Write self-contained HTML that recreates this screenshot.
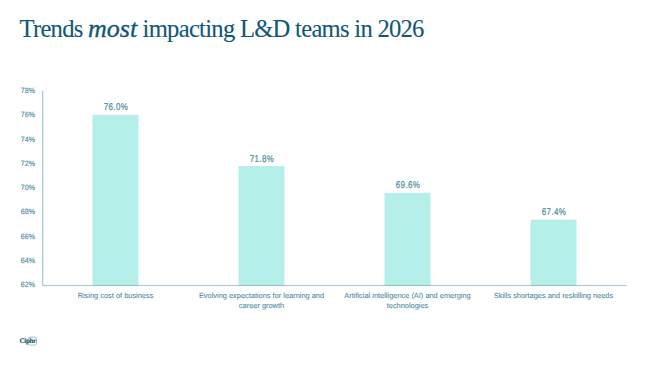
<!DOCTYPE html>
<html><head><meta charset="utf-8">
<style>
html,body{margin:0;padding:0;background:#fff;}
body{width:650px;height:365px;position:relative;overflow:hidden;font-family:"Liberation Sans",sans-serif;}
.title{position:absolute;left:19.5px;top:13.6px;font-family:"Liberation Serif",serif;font-size:24.6px;letter-spacing:-0.72px;-webkit-text-stroke:0.12px #115877;color:#115877;white-space:nowrap;line-height:30px;}
.title i{font-style:italic;font-size:26px;letter-spacing:0px;-webkit-text-stroke:0.35px #115877;}
svg.chart{position:absolute;left:0;top:0;text-rendering:geometricPrecision;}
.tk{font-family:"Liberation Sans",sans-serif;font-size:7.6px;fill:#5a96a9;stroke:#5a96a9;stroke-width:0.2px;text-anchor:end;}
.dl{font-family:"Liberation Sans",sans-serif;font-size:9.9px;letter-spacing:0.4px;fill:#508ca0;stroke:#508ca0;stroke-width:0.2px;text-anchor:middle;}
.ct{font-family:"Liberation Sans",sans-serif;font-size:7.42px;fill:#5290a4;stroke:#5290a4;stroke-width:0.1px;text-anchor:middle;}
</style></head><body>
<div class="title">Trends <i>most</i> impacting L&amp;D teams in 2026</div>
<svg class="chart" width="650" height="365" viewBox="0 0 650 365">
<text transform="translate(35,287.23) scale(0.93,1)" class="tk">62%</text>
<text transform="translate(35,262.97) scale(0.93,1)" class="tk">64%</text>
<text transform="translate(35,238.71) scale(0.93,1)" class="tk">66%</text>
<text transform="translate(35,214.45) scale(0.93,1)" class="tk">68%</text>
<text transform="translate(35,190.19) scale(0.93,1)" class="tk">70%</text>
<text transform="translate(35,165.93) scale(0.93,1)" class="tk">72%</text>
<text transform="translate(35,141.67) scale(0.93,1)" class="tk">74%</text>
<text transform="translate(35,117.41) scale(0.93,1)" class="tk">76%</text>
<text transform="translate(35,93.15) scale(0.93,1)" class="tk">78%</text>

<rect x="92.50" y="114.84" width="46" height="171.16" fill="#b5efea"/>
<rect x="238.50" y="166.04" width="46" height="119.96" fill="#b5efea"/>
<rect x="384.50" y="192.86" width="46" height="93.14" fill="#b5efea"/>
<rect x="530.50" y="219.67" width="46" height="66.33" fill="#b5efea"/>

<rect x="42" y="90.8" width="1.35" height="194.1" fill="rgb(130,169,180)" fill-opacity="0.62"/>
<rect x="42" y="284.9" width="584.5" height="1.2" fill="rgb(130,169,180)" fill-opacity="0.62"/>
<text transform="translate(116.00,110.34) scale(0.81,1)" class="dl">76.0%</text>
<text transform="translate(262.00,161.54) scale(0.81,1)" class="dl">71.8%</text>
<text transform="translate(408.00,188.36) scale(0.81,1)" class="dl">69.6%</text>
<text transform="translate(554.00,215.17) scale(0.81,1)" class="dl">67.4%</text>

<text x="115.50" y="298.30" class="ct">Rising cost of business</text>
<text x="261.50" y="298.30" class="ct">Evolving expectations for learning and</text>
<text x="261.50" y="308.40" class="ct">career growth</text>
<text x="407.50" y="298.30" class="ct">Artificial intelligence (AI) and emerging</text>
<text x="407.50" y="308.40" class="ct">technologies</text>
<text x="553.50" y="298.30" class="ct">Skills shortages and reskilling needs</text>

<g>
<rect x="27.8" y="337.1" width="8.7" height="8" rx="2" fill="#fff" stroke="#a0bbc5" stroke-width="0.9"/>
<text x="19.6" y="343.2" font-family="Liberation Serif" font-weight="bold" font-size="7" letter-spacing="-0.32" fill="#255d74" stroke="#255d74" stroke-width="0.2">Ciphr</text>
</g>
</svg>
</body></html>
